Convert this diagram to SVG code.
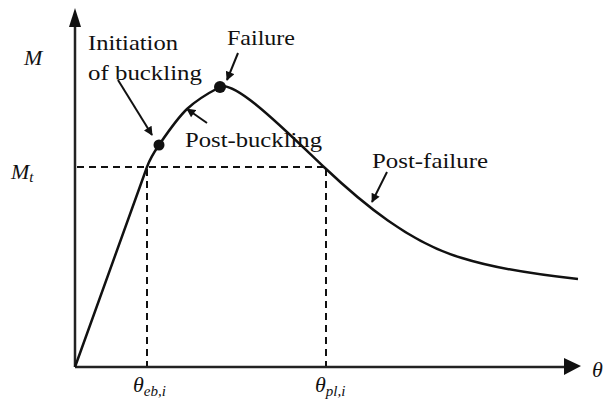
<svg xmlns="http://www.w3.org/2000/svg" width="608" height="405" viewBox="0 0 608 405">
<defs>
<marker id="ah" viewBox="0 0 10 10" refX="9" refY="5" markerWidth="10" markerHeight="9" markerUnits="userSpaceOnUse" orient="auto">
<path d="M0,0 L10,5 L0,10 z" fill="#111"/>
</marker>
<style>
text{font-family:'Liberation Serif','DejaVu Serif',serif;fill:#111}
.lbl{font-size:21px}
.sym{font-style:italic;font-size:22px}
.sub{font-size:15px}
.axis{stroke:#222;stroke-width:2.5;fill:none}
.dash{stroke:#111;stroke-width:2;stroke-dasharray:7,5;fill:none}
.curve{stroke:#111;stroke-width:2.5;fill:none}
.ptr{stroke:#111;stroke-width:2;fill:none;marker-end:url(#ah)}
</style>
</defs>
<rect width="608" height="405" fill="#fff"/>
<g id="axes">
<line class="axis" x1="75" y1="367" x2="75" y2="22"/>
<polygon points="75,8 69,27 81,27" fill="#111"/>
<line class="axis" x1="75" y1="367" x2="566" y2="367"/>
<polygon points="581,366 564,358 564,375" fill="#111"/>
<text class="sym" x="24" y="65">M</text>
<text class="sym" x="11" y="179">M<tspan class="sub" dy="3">t</tspan></text>
<text class="sym" x="592" y="377">θ</text>
<text class="sym" x="133" y="392">θ<tspan class="sub" dy="4">eb,i</tspan></text>
<text class="sym" x="315" y="392">θ<tspan class="sub" dy="4">pl,i</tspan></text>
</g>
<g id="guides">
<line class="dash" x1="77" y1="167" x2="326" y2="167"/>
<line class="dash" x1="147" y1="169" x2="147" y2="366"/>
<line class="dash" x1="326" y1="169" x2="326" y2="366"/>
</g>
<g id="curve">
<path class="curve" d="M75,367 L147,167 C149.7,159.5 152.3,154.7 159,145 C165.7,135.3 176.8,118.7 187,109 C197.2,99.3 212.3,91 220,87 C235,79 290,135 325,168 C362,203 410,243 462,258 C500,270 550,276 578,279"/>
</g>
<g id="node-initiation">
<circle cx="159" cy="145" r="5.5" fill="#111"/>
<text class="lbl" x="88" y="50" textLength="90" lengthAdjust="spacingAndGlyphs">Initiation</text>
<text class="lbl" x="88" y="80" textLength="114" lengthAdjust="spacingAndGlyphs">of buckling</text>
</g>
<g id="node-failure">
<circle cx="220" cy="87" r="6" fill="#111"/>
<text class="lbl" x="227" y="45" textLength="68" lengthAdjust="spacingAndGlyphs">Failure</text>
</g>
<g id="node-postbuckling">
<text class="lbl" x="185" y="147" textLength="137" lengthAdjust="spacingAndGlyphs">Post-buckling</text>
</g>
<g id="node-postfailure">
<text class="lbl" x="372" y="168" textLength="116" lengthAdjust="spacingAndGlyphs">Post-failure</text>
</g>
<g id="connectors">
<line class="ptr" x1="118" y1="80" x2="152" y2="135"/>
<line class="ptr" x1="238" y1="53" x2="227" y2="80"/>
<line class="ptr" x1="207" y1="123" x2="187" y2="109"/>
<line class="ptr" x1="387" y1="172" x2="372" y2="202"/>
</g>
</svg>
